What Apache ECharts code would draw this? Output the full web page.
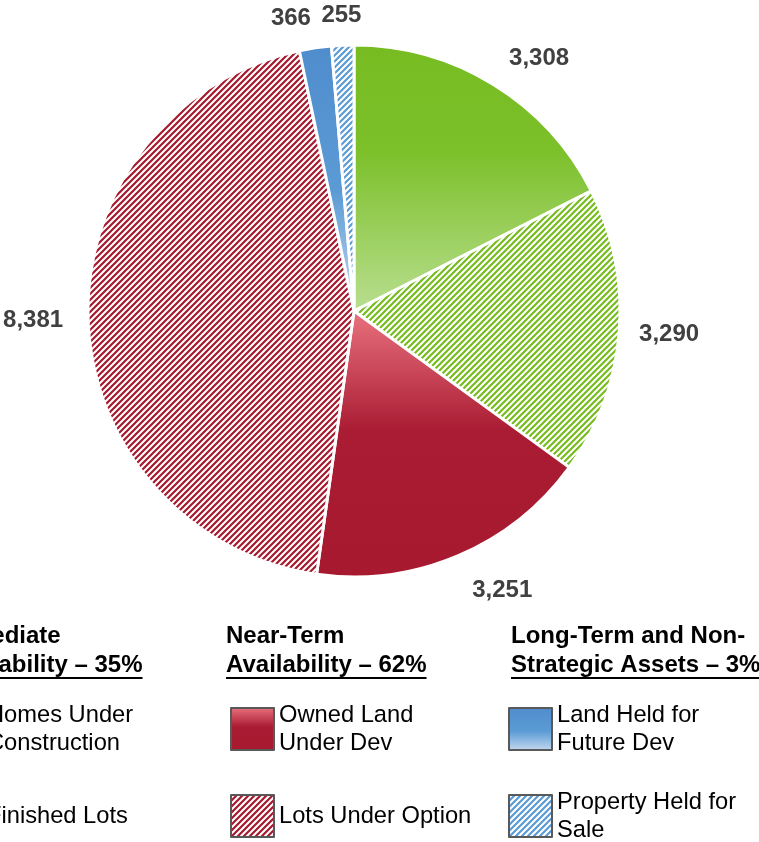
<!DOCTYPE html>
<html><head><meta charset="utf-8">
<script src="https://cdn.jsdelivr.net/npm/echarts@6/dist/echarts.min.js"></script>
<style>html,body{margin:0;padding:0;background:#fff}#c{width:759px;height:842px}</style>
</head><body><div id="c"></div>
<script>
// ---- data ----
const categories = ['Homes Under Construction','Finished Lots','Owned Land Under Dev','Lots Under Option','Land Held for Future Dev','Property Held for Sale'];
const legendLabels = ['Homes Under\nConstruction','Finished Lots','Owned Land\nUnder Dev','Lots Under Option','Land Held for\nFuture Dev','Property Held for\nSale'];
const values = [3308, 3290, 3251, 8381, 366, 255];
const groupTitles = ['Immediate','Near-Term','Long-Term and Non-'];
const groupSubtitles = ['Availability – 35%','Availability – 62%','Strategic Assets – 3%'];
const groupMembers = [[0,1],[2,3],[4,5]];

// ---- styles ----
const FONT = 'Arial, "Liberation Sans", sans-serif';
function hatch(color){
  const c = document.createElement('canvas'); c.width = 6; c.height = 6;
  const g = c.getContext('2d');
  g.fillStyle = '#fff'; g.fillRect(0,0,6,6);
  g.strokeStyle = color; g.lineWidth = 2.2;
  g.beginPath();
  g.moveTo(0,6); g.lineTo(6,0);
  g.moveTo(-3,3); g.lineTo(3,-3);
  g.moveTo(3,9); g.lineTo(9,3);
  g.stroke();
  return {image: c, repeat: 'repeat'};
}
function vgrad(stops){
  return new echarts.graphic.LinearGradient(0,0,0,1, stops.map(s=>({offset:s[0], color:s[1]})));
}
const fills = [
  vgrad([[0,'#76bc21'],[0.4,'#7cc02a'],[1,'#b9de90']]),
  hatch('#77bc1f'),
  vgrad([[0,'#e9737f'],[0.45,'#aa1c33'],[1,'#a6192e']]),
  hatch('#a6192e'),
  vgrad([[0,'#4f8ccd'],[0.55,'#5b9bd5'],[1,'#c6daf0']]),
  hatch('#5b9bd5')
];
const labelRadialGap = [30, 20, 37, 25, 30, 30];
const legendLeft = [-62, 230, 508];
const headerLeft = [-58, 226, 511];

const chart = echarts.init(document.getElementById('c'), null, {renderer:'canvas'});

const measure = (() => { const cv = document.createElement('canvas').getContext('2d'); cv.font = 'bold 24px ' + FONT; return t => cv.measureText(t).width; })();

const graphics = [];
groupTitles.forEach((t, i) => {
  graphics.push({type:'text', left: headerLeft[i], top: 622, silent:true,
    style:{text: t + '\n' + groupSubtitles[i], font:'bold 24px ' + FONT, fill:'#000', lineHeight:29}});
  graphics.push({type:'rect', silent:true, shape:{x: headerLeft[i], y: 677, width: measure(groupSubtitles[i]), height: 2}, style:{fill:'#000'}});
});

chart.setOption({
  animation: false,
  backgroundColor: '#fff',
  graphic: graphics,
  legend: groupMembers.map((m, gi) => ({
    orient: 'vertical', left: legendLeft[gi], top: 695, width: 300, height: 300, padding: 0, itemGap: 19,
    itemWidth: 43, itemHeight: 42, icon: 'rect', selectedMode: false,
    itemStyle: {borderColor: '#595959', borderWidth: 2},
    textStyle: {fontSize: 23.7, fontFamily: FONT, color: '#000', lineHeight: 28, height: 56, padding: [12, 0, 0, 0]},
    formatter: name => legendLabels[categories.indexOf(name)],
    data: m.map(i => categories[i])
  })),
  series: [{
    type: 'pie', center: [354, 311], radius: 266, startAngle: 90, clockwise: true,
    avoidLabelOverlap: false, silent: true,
    itemStyle: {borderColor: '#fff', borderWidth: 3},
    label: {show: true, position: 'outside', fontSize: 24, fontWeight: 'bold', color: '#404040', fontFamily: FONT,
      distanceToLabelLine: 0, formatter: p => p.value.toLocaleString('en-US')},
    labelLine: {show: false, length: 30, length2: 0},
    labelLayout: p => (p.dataIndex === values.length - 1 ? {align: 'center'} : {}),
    data: categories.map((n, i) => ({name: n, value: values[i], itemStyle: {color: fills[i]}, labelLine: {length: labelRadialGap[i]}}))
  }]
});
</script></body></html>
